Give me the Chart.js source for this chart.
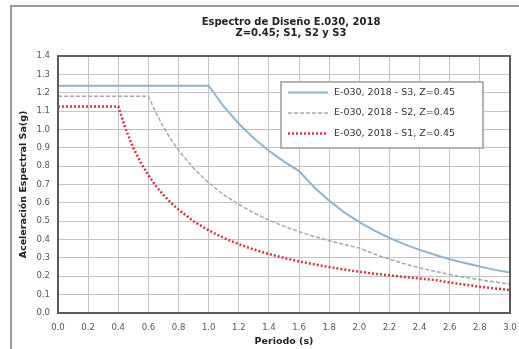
<!DOCTYPE html>
<html lang="es">
  <head>
    <meta charset="UTF-8" />
    <title>Espectro de Diseño E.030, 2018</title>
    <script src="https://cdn.jsdelivr.net/npm/chart.js@4.4.0/dist/chart.umd.min.js"></script>
    <style>
      html, body {
        margin: 0;
        padding: 0;
        background: #fff;
        overflow: hidden;
      }
      .frame {
        position: absolute;
        left: 10px;
        top: 5px;
        width: 530px;
        height: 370px;
        border: 2px solid #9a9a9a;
        box-sizing: border-box;
      }
      .wrap {
        position: absolute;
        left: 0;
        top: 0;
        width: 519px;
        height: 349px;
      }
    </style>
  </head>
  <body>
    <div class="frame"></div>
    <div class="wrap">
      <canvas id="spectrum"></canvas>
    </div>
    <script>
      // periodo T (s)
      const periods = [0.0, 0.1, 0.2, 0.3, 0.4, 0.45, 0.5, 0.55, 0.6, 0.65, 0.7, 0.75, 0.8,
        0.9, 1.0, 1.1, 1.2, 1.3, 1.4, 1.5, 1.6, 1.7, 1.8, 1.9, 2.0,
        2.1, 2.2, 2.3, 2.4, 2.5, 2.6, 2.7, 2.8, 2.9, 3.0]

      // Sa (g)
      const saS3 = [1.238, 1.238, 1.238, 1.238, 1.238, 1.238, 1.238, 1.238, 1.238, 1.238, 1.238, 1.238, 1.238,
        1.238, 1.238, 1.125, 1.031, 0.952, 0.884, 0.825, 0.773, 0.685, 0.611, 0.548, 0.495,
        0.449, 0.409, 0.374, 0.344, 0.317, 0.293, 0.272, 0.253, 0.235, 0.22]
      const saS2 = [1.181, 1.181, 1.181, 1.181, 1.181, 1.181, 1.181, 1.181, 1.181, 1.09, 1.013, 0.945, 0.886,
        0.788, 0.709, 0.644, 0.591, 0.545, 0.506, 0.473, 0.443, 0.417, 0.394, 0.373, 0.354,
        0.321, 0.293, 0.268, 0.246, 0.227, 0.21, 0.194, 0.181, 0.169, 0.158]
      const saS1 = [1.125, 1.125, 1.125, 1.125, 1.125, 1.0, 0.9, 0.818, 0.75, 0.692, 0.643, 0.6, 0.563,
        0.5, 0.45, 0.409, 0.375, 0.346, 0.321, 0.3, 0.281, 0.265, 0.25, 0.237, 0.225,
        0.214, 0.205, 0.196, 0.188, 0.18, 0.166, 0.154, 0.143, 0.134, 0.125]

      const seriesLabels = ['E-030, 2018 - S3, Z=0.45', 'E-030, 2018 - S2, Z=0.45', 'E-030, 2018 - S1, Z=0.45']
      const titleLines = ['Espectro de Diseño E.030, 2018', 'Z=0.45; S1, S2 y S3']

      const FONT = '"DejaVu Sans", Verdana, sans-serif'

      const toPoints = (ys) => periods.map((t, i) => ({ x: t, y: ys[i] }))

      // borde del area de trazado, titulo y leyenda dentro del grafico
      const decor = {
        id: 'decor',
        afterDraw(chart) {
          const { ctx, chartArea: a } = chart
          ctx.save()
          ctx.strokeStyle = '#5c5c5c'
          ctx.lineWidth = 2
          ctx.strokeRect(a.left, a.top, a.right - a.left, a.bottom - a.top)

          ctx.fillStyle = '#222'
          ctx.font = 'bold 10px ' + FONT
          ctx.textAlign = 'center'
          ctx.textBaseline = 'middle'
          titleLines.forEach((t, i) => ctx.fillText(t, 291, 22.5 + i * 10.5))

          const bx = a.right - 229
          const by = a.top + 26
          ctx.fillStyle = '#fff'
          ctx.fillRect(bx, by, 202, 66)
          ctx.strokeStyle = '#9a9a9a'
          ctx.lineWidth = 1.5
          ctx.strokeRect(bx, by, 202, 66)

          const rows = [10.5, 31, 51.5]
          chart.data.datasets.forEach((ds, i) => {
            const y = by + rows[i]
            ctx.strokeStyle = ds.borderColor
            ctx.lineWidth = ds.borderWidth
            ctx.setLineDash(ds.borderDash || [])
            ctx.beginPath()
            ctx.moveTo(bx + 7, y)
            ctx.lineTo(bx + 47, y)
            ctx.stroke()
            ctx.setLineDash([])
            ctx.fillStyle = '#333'
            ctx.font = '9.5px ' + FONT
            ctx.textAlign = 'left'
            ctx.fillText(ds.label, bx + 53, y)
          })
          ctx.restore()
        },
      }

      new Chart(document.getElementById('spectrum'), {
        type: 'line',
        data: {
          datasets: [
            {
              label: seriesLabels[0],
              data: toPoints(saS3),
              borderColor: '#8fb4cf',
              borderWidth: 2,
            },
            {
              label: seriesLabels[1],
              data: toPoints(saS2),
              borderColor: '#a6a6b2',
              borderWidth: 1.5,
              borderDash: [4, 2],
            },
            {
              label: seriesLabels[2],
              data: toPoints(saS1),
              borderColor: '#d33545',
              borderWidth: 2.5,
              borderDash: [2, 2],
            },
          ],
        },
        plugins: [decor],
        options: {
          responsive: true,
          maintainAspectRatio: false,
          animation: false,
          elements: { point: { radius: 0 }, line: { tension: 0 } },
          layout: { padding: { left: 0, right: 9, top: 56, bottom: 0 } },
          plugins: {
            legend: { display: false },
            title: { display: false },
            tooltip: { enabled: false },
          },
          scales: {
            x: {
              type: 'linear',
              min: 0,
              max: 3,
              afterFit: (s) => {
                s.height = 36
                s.paddingLeft = 0
                s.paddingRight = 0
              },
              ticks: {
                stepSize: 0.2,
                callback: (v) => v.toFixed(1),
                font: { family: FONT, size: 8.5 },
                color: '#555',
                padding: 10,
                maxRotation: 0,
              },
              grid: { color: '#c4c4c4', lineWidth: 1, drawTicks: false },
              border: { display: false },
              title: {
                display: true,
                text: 'Periodo (s)',
                font: { family: FONT, size: 9.5, weight: 'bold' },
                color: '#222',
                padding: { top: 0, bottom: 2 },
              },
            },
            y: {
              min: 0,
              max: 1.4,
              afterFit: (s) => {
                s.width = 58
                s.paddingTop = 0
                s.paddingBottom = 0
              },
              ticks: {
                stepSize: 0.1,
                callback: (v) => v.toFixed(1),
                font: { family: FONT, size: 8.5 },
                color: '#555',
                padding: 8,
              },
              grid: { color: '#c4c4c4', lineWidth: 1, drawTicks: false },
              border: { display: false },
              title: {
                display: true,
                text: 'Aceleración Espectral Sa(g)',
                font: { family: FONT, size: 9.5, weight: 'bold' },
                color: '#222',
                padding: { top: 18, bottom: 0 },
              },
            },
          },
        },
      })
    </script>
  </body>
</html>
